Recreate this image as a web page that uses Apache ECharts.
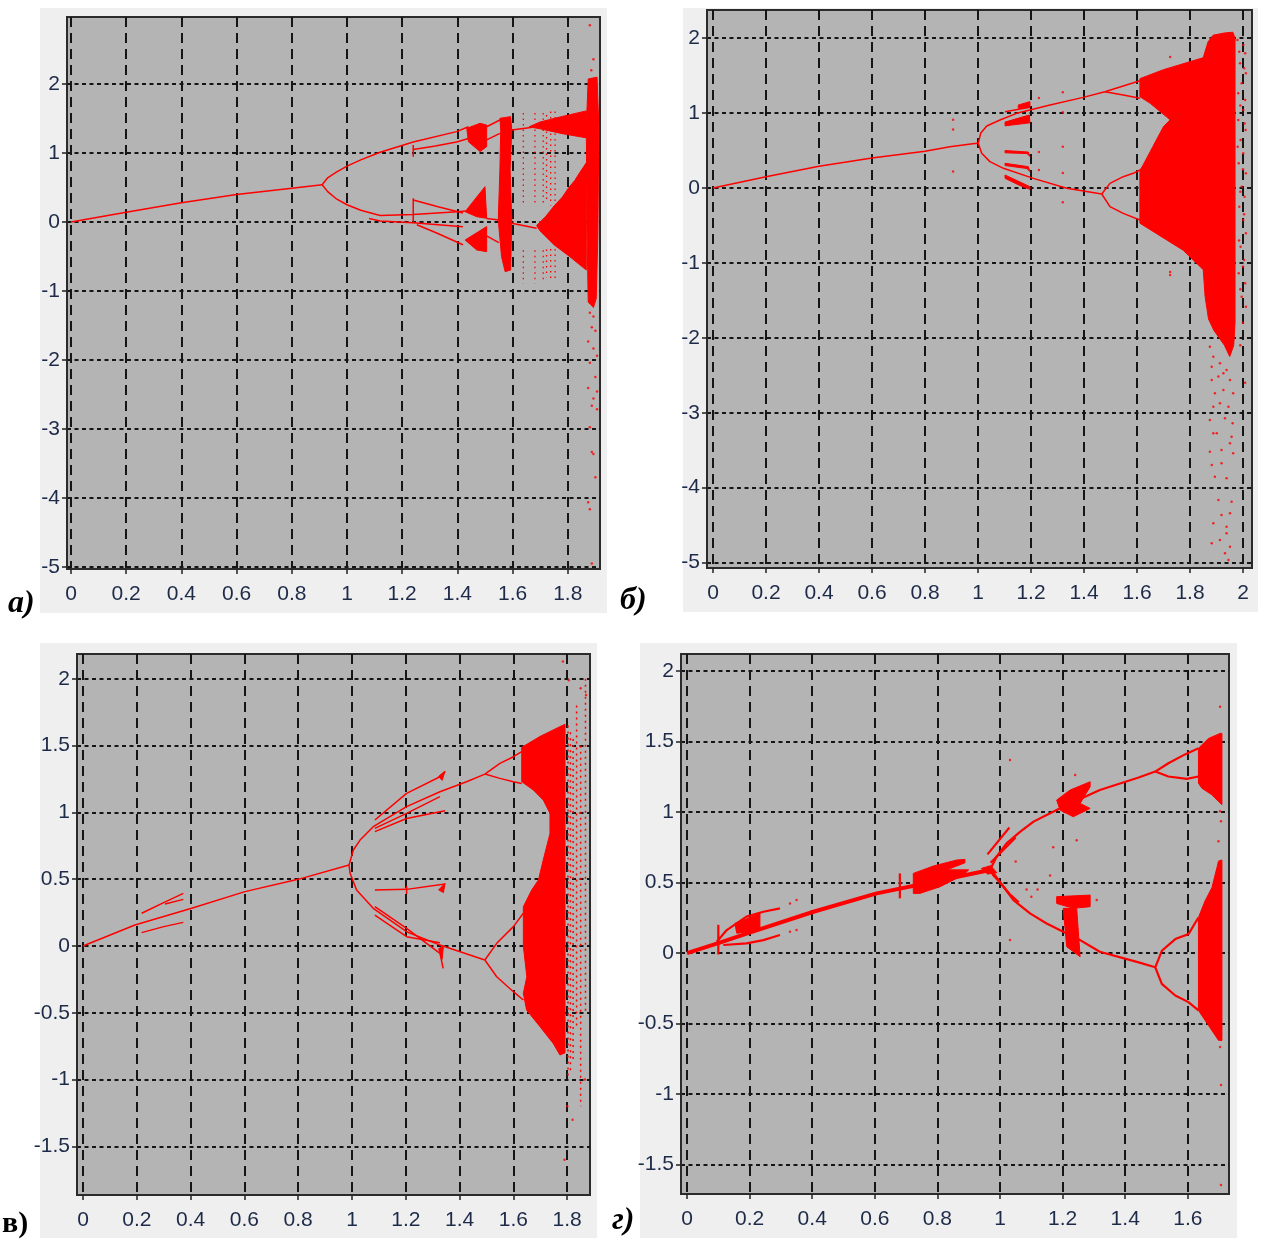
<!DOCTYPE html>
<html><head><meta charset="utf-8">
<script src="https://cdn.jsdelivr.net/npm/echarts@6/dist/echarts.min.js"></script>
<style>html,body{margin:0;padding:0;background:#fff}#c{width:1264px;height:1240px}</style>
</head><body><div id="c"></div>
<script>
// ---------- tick labels ----------
const A_XTICKS = [0,0.2,0.4,0.6,0.8,1,1.2,1.4,1.6,1.8];
const A_YTICKS = [-5,-4,-3,-2,-1,0,1,2];
const B_XTICKS = [0,0.2,0.4,0.6,0.8,1,1.2,1.4,1.6,1.8,2];
const B_YTICKS = [-5,-4,-3,-2,-1,0,1,2];
const C_XTICKS = [0,0.2,0.4,0.6,0.8,1,1.2,1.4,1.6,1.8];
const C_YTICKS = [-1.5,-1,-0.5,0,0.5,1,1.5,2];
const D_XTICKS = [0,0.2,0.4,0.6,0.8,1,1.2,1.4,1.6];
const D_YTICKS = [-1.5,-1,-0.5,0,0.5,1,1.5,2];

// ---------- panel a ----------
const A_LINES = [
  [[0,0],[0.2,0.14],[0.4,0.28],[0.6,0.40],[0.8,0.49],[0.91,0.54]],
  [[0.91,0.54],[0.93,0.64],[0.96,0.72],[1.0,0.81],[1.05,0.90],[1.12,1.01],[1.24,1.16],[1.397,1.31],[1.44,1.38]],
  [[1.24,1.05],[1.32,1.10],[1.397,1.16],[1.44,1.21]],
  [[0.91,0.54],[0.93,0.44],[0.96,0.34],[1.0,0.25],[1.05,0.17],[1.12,0.095],[1.24,0.11],[1.40,0.15],[1.43,0.16]],
  [[1.08,0.05],[1.12,0.015],[1.24,-0.01],[1.33,-0.04],[1.42,-0.07]],
  [[1.24,0.32],[1.33,0.22],[1.42,0.13]],
  [[1.253,-0.04],[1.325,-0.16],[1.42,-0.33]],
  [[1.24,0.343],[1.24,-0.019]],
  [[1.24,1.116],[1.24,0.947]],
  [[1.506,1.38],[1.554,1.478]],
  [[1.506,1.19],[1.554,1.285]],
  [[1.597,1.333],[1.687,1.382]],
  [[1.597,-0.019],[1.687,-0.092]],
  [[1.506,0.05],[1.55,0.03]],
  [[1.506,-0.2],[1.55,-0.3]]
];
const A_BANDS = [
  [[1.434,1.357],[1.482,1.43],[1.506,1.406],[1.506,1.092],[1.482,1.02],[1.44,1.164]],
  [[1.554,1.503],[1.593,1.527],[1.597,1.333],[1.591,0.754],[1.597,0.029],[1.593,-0.696],[1.573,-0.72],[1.56,-0.502],[1.548,0.029],[1.554,0.754],[1.557,1.333]],
  [[1.428,0.15],[1.50,0.512],[1.506,0.053],[1.47,0.077]],
  [[1.428,-0.261],[1.506,-0.067],[1.506,-0.43],[1.47,-0.405]],
  [[1.66,1.38],[1.70,1.45],[1.78,1.53],[1.867,1.61],[1.867,1.22],[1.78,1.28],[1.70,1.35]],
  [[1.687,-0.05],[1.72,0.08],[1.751,0.236],[1.78,0.36],[1.803,0.495],[1.825,0.60],[1.841,0.702],[1.867,0.857],[1.867,-0.696],[1.803,-0.489],[1.751,-0.333],[1.699,-0.126]],
  [[1.874,2.073],[1.906,2.099],[1.9125,1.375],[1.909,-0.178],[1.903,-1.11],[1.893,-1.239],[1.874,-1.161],[1.87,-0.178],[1.867,1.375]]
];
const A_STREAKS = [
  [[1.639,1.58],[1.639,0.27]],[[1.639,-0.41],[1.639,-0.89]],
  [[1.681,1.58],[1.681,0.27]],[[1.681,-0.41],[1.681,-0.89]],
  [[1.711,1.58],[1.711,0.27]],[[1.711,-0.41],[1.711,-0.85]],
  [[1.723,1.55],[1.723,0.30]],[[1.723,-0.40],[1.723,-0.80]],
  [[1.738,1.60],[1.738,0.24]],[[1.738,-0.39],[1.738,-0.85]],
  [[1.754,1.60],[1.754,0.24]],[[1.754,-0.39],[1.754,-0.85]]
];
const A_DOTS = [[1.880,-1.317],[1.893,-1.369],[1.887,-1.524],[1.90,-1.576],[1.874,-1.731],[1.893,-1.834],[1.906,-1.938],[1.880,-2.041],[1.90,-2.248],[1.874,-2.404],[1.906,-2.455],[1.893,-2.559],[1.887,-2.662],[1.906,-2.714],[1.880,-2.973],[1.887,-3.335],[1.893,-3.361],[1.90,-3.698],[1.874,-4.06],[1.880,-4.163],[1.887,-4.95],[1.880,2.85],[1.893,2.358],[1.885,2.2]];

// ---------- panel b ----------
const B_LINES = [
  [[0,0],[0.2,0.15],[0.4,0.29],[0.6,0.40],[0.8,0.49],[0.894,0.55],[0.98,0.59],[1.001,0.596]],
  [[1.001,0.596],[1.010,0.73],[1.033,0.828],[1.083,0.908],[1.146,0.997],[1.272,1.108],[1.397,1.21],[1.479,1.286],[1.611,1.433]],
  [[1.479,1.286],[1.548,1.242],[1.611,1.197]],
  [[1.001,0.596],[1.014,0.463],[1.045,0.352],[1.096,0.263],[1.209,0.129],[1.335,-0.004],[1.467,-0.08]],
  [[1.467,-0.08],[1.498,0.062],[1.548,0.151],[1.586,0.196],[1.611,0.24]],
  [[1.467,-0.08],[1.498,-0.249],[1.548,-0.338],[1.611,-0.427]],
  [[1.102,1.019],[1.196,1.077]]
];
const B_BANDS = [
  [[1.611,1.46],[1.70,1.58],[1.85,1.74],[1.868,1.95],[1.887,2.04],[1.93,2.07],[1.962,2.08],[1.97,2.0],[1.97,-1.8],[1.965,-2.1],[1.95,-2.25],[1.93,-2.1],[1.91,-2.0],[1.89,-1.9],[1.87,-1.75],[1.857,-1.45],[1.85,-1.09],[1.774,-0.83],[1.611,-0.47],[1.611,0.24],[1.619,0.28],[1.70,0.82],[1.725,0.91],[1.65,1.13],[1.611,1.22]],
  [[1.102,0.88],[1.194,0.975],[1.196,0.87],[1.102,0.83]],
  [[1.152,1.108],[1.196,1.153],[1.196,1.077],[1.152,1.064]],
  [[1.102,0.50],[1.19,0.48],[1.196,0.42],[1.185,0.46],[1.102,0.47]],
  [[1.102,0.33],[1.19,0.285],[1.196,0.218],[1.185,0.26],[1.102,0.30]],
  [[1.102,0.174],[1.196,0.018],[1.196,-0.018],[1.16,0.03],[1.102,0.129]]
];
const B_DOTS = [[1.32,1.28],[1.32,1.01],[1.32,0.55],[1.32,0.2],[1.32,-0.19],[1.23,1.2],[1.23,0.48],[1.23,0.24],[1.725,1.75],[1.725,-1.12],[1.725,-1.16],[0.906,0.91],[0.906,0.78],[0.906,0.22],
  [1.979,1.976],[2.001,1.909],[2.008,1.798],[1.989,1.664],[2.011,1.531],[1.995,1.397],[1.982,1.264],[2.008,1.175],[2.001,1.041],[1.982,0.908],[2.010,0.774],[1.991,0.641],[2.001,0.463],[1.984,0.329],[2.011,0.196],[1.995,0.018],[2.006,-0.116],[1.986,-0.249],[2.001,-0.427],[2.011,-0.605],[1.991,-0.783],[2.004,-0.961],[1.984,-1.139],[2.008,-1.273],[1.995,-1.451],[2.011,-1.584],
  [1.986,1.82],[2.004,1.60],[1.99,1.10],[2.006,0.86],[1.98,0.55],[2.0,0.25],[1.99,-0.05],[2.004,-0.35],[1.985,-0.70],[2.0,-1.05],[1.99,-1.35],[2.0,-1.8],[1.99,-2.1],[2.008,-2.6],
  [1.875,-2.118],[1.888,-2.252],[1.913,-2.34],[1.938,-2.43],[1.882,-2.563],[1.907,-2.518],[1.951,-2.563],[1.926,-2.697],[1.894,-2.741],[1.963,-2.741],[1.913,-2.875],[1.945,-2.919],[1.888,-2.919],[1.875,-3.097],[1.932,-3.075],[1.901,-3.275],[1.957,-3.32],[1.888,-3.275],[1.919,-3.498],[1.951,-3.409],[1.875,-3.52],[1.963,-3.542],[1.882,-3.698],[1.919,-3.676],[1.938,-3.876],[1.894,-3.854],[1.907,-4.165],[1.957,-4.188],[1.919,-4.365],[1.951,-4.343],[1.888,-4.477],[1.938,-4.521],[1.913,-4.699],[1.882,-4.744],[1.951,-4.788],[1.932,-4.877],[1.945,-4.966],[1.938,-4.61],[1.961,-3.142],[1.882,-2.385],[1.926,-2.474]
];

// ---------- panel c ----------
const C_LINES = [
  [[0,0],[0.193,0.157],[0.404,0.282],[0.602,0.407],[0.80,0.499],[0.989,0.606]],
  [[0.218,0.245],[0.30,0.325],[0.373,0.394]],
  [[0.305,0.314],[0.373,0.349]],
  [[0.218,0.100],[0.30,0.145],[0.373,0.177]],
  [[0.989,0.606],[1.005,0.719],[1.03,0.793],[1.079,0.893],[1.203,1.043],[1.327,1.155],[1.426,1.23],[1.494,1.287],[1.55,1.367],[1.60,1.417],[1.631,1.455]],
  [[1.494,1.287],[1.55,1.255],[1.60,1.23],[1.631,1.217]],
  [[0.989,0.606],[0.993,0.544],[1.017,0.419],[1.079,0.282],[1.203,0.107],[1.327,0.007],[1.494,-0.105]],
  [[1.494,-0.105],[1.538,0.02],[1.60,0.145],[1.637,0.245]],
  [[1.494,-0.105],[1.538,-0.23],[1.60,-0.342],[1.637,-0.404]],
  [[1.085,0.943],[1.203,1.143],[1.327,1.267],[1.346,1.305]],
  [[1.085,0.881],[1.203,0.993],[1.327,1.118]],
  [[1.085,0.856],[1.203,0.955],[1.346,1.013]],
  [[1.085,0.419],[1.203,0.424],[1.346,0.464]],
  [[1.085,0.294],[1.203,0.132],[1.327,-0.055],[1.339,-0.167]],
  [[1.085,0.232],[1.203,0.07],[1.327,0.025]],
  [[1.203,0.45],[1.203,0.39]]
];
const C_BANDS = [
  [[1.631,1.487],[1.70,1.57],[1.773,1.642],[1.792,1.66],[1.792,-0.80],[1.773,-0.816],[1.748,-0.729],[1.699,-0.604],[1.649,-0.479],[1.637,-0.354],[1.65,-0.23],[1.637,0.0],[1.637,0.294],[1.668,0.419],[1.693,0.494],[1.711,0.644],[1.736,0.843],[1.736,0.993],[1.711,1.093],[1.674,1.168],[1.631,1.23]],
  [[1.322,1.27],[1.346,1.31],[1.335,1.24]],
  [[1.322,0.42],[1.346,0.47],[1.34,0.40]],
  [[1.322,-0.02],[1.335,-0.10],[1.34,0.0]]
];
const C_STREAKS = [
  [[1.803,1.65],[1.803,-1.0]],
  [[1.812,1.6],[1.812,-0.95]],
  [[1.822,1.55],[1.822,-0.85]],
  [[1.835,1.8],[1.835,-0.6]],
  [[1.85,1.5],[1.85,-1.2]],
  [[1.868,2.0],[1.868,-0.5]]
];
const C_DOTS = [[1.784,2.13],[1.806,1.99],[1.85,1.93],[1.87,1.88],[1.79,-1.60],[1.866,-1.0],[1.80,-1.2],[1.82,-1.3]];

// ---------- panel d ----------
const D_MAIN = [[0,0],[0.1,0.07],[0.2,0.145],[0.404,0.293],[0.606,0.423],[0.803,0.513],[0.968,0.589]];
const D_LINES = [
  [[0.968,0.589],[0.989,0.683],[1.021,0.778],[1.064,0.86],[1.107,0.932],[1.149,0.979],[1.202,1.038],[1.319,1.156],[1.443,1.245],[1.496,1.287],[1.538,1.346],[1.591,1.409],[1.634,1.452]],
  [[1.496,1.287],[1.538,1.252],[1.597,1.235],[1.634,1.252]],
  [[0.96,0.70],[1.03,0.89]],
  [[0.97,0.64],[1.05,0.82]],
  [[0.968,0.589],[0.984,0.553],[1.011,0.47],[1.043,0.376],[1.096,0.281],[1.149,0.21],[1.202,0.151],[1.256,0.092],[1.319,0.009],[1.443,-0.066],[1.496,-0.101]],
  [[0.975,0.56],[1.0,0.50],[1.03,0.42],[1.06,0.36]],
  [[1.496,-0.101],[1.517,0.016],[1.56,0.099],[1.602,0.134],[1.634,0.252]],
  [[1.496,-0.101],[1.517,-0.219],[1.56,-0.301],[1.602,-0.348],[1.634,-0.407]],
  [[0.095,0.08],[0.127,0.163],[0.19,0.258],[0.244,0.293],[0.297,0.317]],
  [[0.116,0.057],[0.19,0.069],[0.244,0.092],[0.297,0.128]],
  [[0.10,0.20],[0.10,-0.01]],
  [[0.68,0.565],[0.68,0.388]]
];
const D_BANDS = [
  [[0.153,0.21],[0.233,0.28],[0.233,0.163],[0.159,0.14]],
  [[0.723,0.565],[0.787,0.617],[0.862,0.66],[0.888,0.664],[0.888,0.64],[0.83,0.59],[0.90,0.59],[0.883,0.553],[0.808,0.47],[0.744,0.423],[0.723,0.423]],
  [[1.181,1.085],[1.224,1.156],[1.288,1.215],[1.288,1.18],[1.256,1.061],[1.288,1.026],[1.234,0.967],[1.192,1.014]],
  [[1.181,0.40],[1.288,0.411],[1.288,0.329],[1.234,0.317],[1.181,0.352]],
  [[1.202,0.317],[1.245,0.317],[1.256,-0.026],[1.213,0.045]],
  [[1.634,1.452],[1.666,1.522],[1.703,1.558],[1.709,1.558],[1.709,1.052],[1.698,1.075],[1.677,1.122],[1.645,1.169],[1.634,1.205]],
  [[1.693,0.605],[1.698,0.652],[1.709,0.66],[1.709,-0.62],[1.698,-0.619],[1.666,-0.513],[1.634,-0.407],[1.634,0.252],[1.655,0.369],[1.677,0.464]],
  [[0.94,0.60],[0.97,0.62],[0.99,0.57],[0.96,0.56]]
];
const D_DOTS = [[1.032,1.369],[1.24,1.262],[1.245,0.8],[1.309,0.376],[1.032,0.092],[1.085,0.45],[1.10,0.40],[1.12,0.45],[0.329,0.352],[0.35,0.376],[0.329,0.151],[0.35,0.163],[1.703,1.746],[1.703,1.005],[1.706,0.934],[1.698,0.793],[1.703,-0.666],[1.706,-0.936],[1.706,-1.645],[1.17,0.75],[1.16,0.55],[1.05,0.65]];

// ---------- build ----------
const RED = '#ff0000';
const FONT = "'Liberation Sans',Arial,sans-serif";
const LABEL = '#1d2a48';
const PANELS = [
  {grid:{left:67, top:17, width:533, height:552}, x:[-0.0145,1.9167], y:[-5.029,2.971], xt:A_XTICKS, yt:A_YTICKS},
  {grid:{left:707, top:10, width:545, height:558}, x:[-0.0226,2.034], y:[-5.073,2.3765], xt:B_XTICKS, yt:B_YTICKS},
  {grid:{left:77, top:654, width:513, height:541}, x:[-0.0223,1.8848], y:[-1.864,2.186], xt:C_XTICKS, yt:C_YTICKS},
  {grid:{left:681, top:654, width:548, height:540}, x:[-0.0192,1.7316], y:[-1.709,2.121], xt:D_XTICKS, yt:D_YTICKS}
];
const grids = [], xAxes = [], yAxes = [], series = [];
PANELS.forEach((p, i) => {
  grids.push(Object.assign({show:true, backgroundColor:'#b4b4b4', borderColor:'#2b2b2b', borderWidth:2, containLabel:false}, p.grid));
  xAxes.push({type:'value', gridIndex:i, min:p.x[0], max:p.x[1],
    axisLine:{show:true, onZero:false, lineStyle:{color:'#2b2b2b', width:2}},
    axisTick:{show:true, customValues:p.xt, length:5, lineStyle:{color:'#222', width:1.5}},
    axisLabel:{customValues:p.xt, margin:15, fontSize:21, color:LABEL, fontFamily:FONT},
    splitLine:{show:true, lineStyle:{color:'#151515', width:2, type:[10,6]}}});
  yAxes.push({type:'value', gridIndex:i, min:p.y[0], max:p.y[1],
    axisLine:{show:true, onZero:false, lineStyle:{color:'#2b2b2b', width:2}},
    axisTick:{show:true, customValues:p.yt, length:5, lineStyle:{color:'#222', width:1.5}},
    axisLabel:{customValues:p.yt, margin:7, fontSize:21, color:LABEL, fontFamily:FONT},
    splitLine:{show:true, lineStyle:{color:'#151515', width:2, type:[4,3.5]}}});
});
function addLines(gi, lines, width, dash) {
  lines.forEach(l => series.push({type:'line', xAxisIndex:gi, yAxisIndex:gi, data:l, symbol:'none', showSymbol:false,
    lineStyle:{color:RED, width:width, type:dash || 'solid'}, silent:true, animation:false, z:3, clip:true}));
}
function addPolys(gi, polys) {
  series.push({type:'custom', xAxisIndex:gi, yAxisIndex:gi, silent:true, animation:false, z:3, clip:true,
    data: polys.map((p, k) => [p[0][0], p[0][1], k]),
    renderItem: (params, api) => ({type:'polygon', shape:{points: polys[api.value(2)].map(pt => api.coord(pt))},
      style:{fill:RED, stroke:RED, lineWidth:1}})});
}
function addDots(gi, dots, size) {
  series.push({type:'scatter', xAxisIndex:gi, yAxisIndex:gi, data:dots, symbolSize:size, silent:true, animation:false,
    itemStyle:{color:RED}, z:3});
}
addLines(0, A_LINES, 1.5); addPolys(0, A_BANDS); addLines(0, A_STREAKS, 1.3, [1.5,4]); addDots(0, A_DOTS, 2.5);
addLines(1, B_LINES, 1.5); addPolys(1, B_BANDS); addDots(1, B_DOTS, 2.5);
addLines(2, C_LINES, 1.5); addPolys(2, C_BANDS); addLines(2, C_STREAKS, 1.5, [2,4]); addDots(2, C_DOTS, 2.5);
addLines(3, [D_MAIN], 4); addLines(3, D_LINES, 2.2); addPolys(3, D_BANDS); addDots(3, D_DOTS, 2.5);

const chart = echarts.init(document.getElementById('c'), null, {renderer:'canvas'});
chart.setOption({
  animation:false,
  backgroundColor:'#ffffff',
  grid:grids, xAxis:xAxes, yAxis:yAxes, series:series,
  graphic:[
    {type:'rect', z:-100, shape:{x:40, y:8, width:567, height:605}, style:{fill:'#efefef'}},
    {type:'rect', z:-100, shape:{x:683, y:8, width:575, height:604}, style:{fill:'#efefef'}},
    {type:'rect', z:-100, shape:{x:40, y:643, width:557, height:595}, style:{fill:'#efefef'}},
    {type:'rect', z:-100, shape:{x:640, y:643, width:597, height:595}, style:{fill:'#efefef'}},
    {type:'text', z:10, style:{x:8, y:604, text:'а)', font:'italic bold 32px "Liberation Serif"', fill:'#000', verticalAlign:'middle'}},
    {type:'text', z:10, style:{x:620, y:601, text:'б)', font:'italic bold 32px "Liberation Serif"', fill:'#000', verticalAlign:'middle'}},
    {type:'text', z:10, style:{x:2, y:1224, text:'в)', font:'bold 30px "Liberation Serif"', fill:'#000', verticalAlign:'middle'}},
    {type:'text', z:10, style:{x:612, y:1221, text:'г)', font:'italic bold 32px "Liberation Serif"', fill:'#000', verticalAlign:'middle'}}
  ]
});
</script></body></html>
